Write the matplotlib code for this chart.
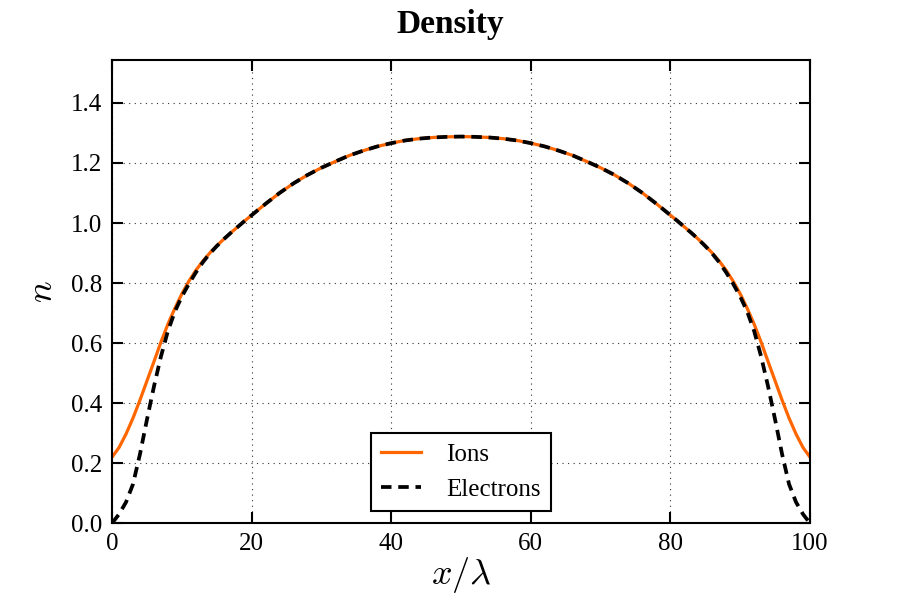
import matplotlib
matplotlib.use("Agg")
import matplotlib.pyplot as plt
import numpy as np

plt.rcParams['font.family'] = ['Liberation Serif', 'DejaVu Serif']
plt.rcParams['mathtext.fontset'] = 'cm'

# Positions along the domain (x / lambda), left half; the right half mirrors it
x_left = [0, 1, 2, 3, 4, 5, 6, 7, 8, 9, 10, 11, 12, 13, 14, 15, 16, 17, 18, 19, 20,
          22, 24, 26, 28, 30, 32, 34, 36, 38, 40, 42, 44, 46, 48, 50]
ions_left = [0.22, 0.252, 0.297, 0.35, 0.41, 0.474, 0.538, 0.603, 0.663, 0.716, 0.764,
             0.806, 0.842, 0.873, 0.9, 0.924, 0.946, 0.967, 0.987, 1.007, 1.026,
             1.064, 1.1, 1.132, 1.16, 1.184, 1.205, 1.225, 1.241, 1.255, 1.266,
             1.275, 1.281, 1.285, 1.287, 1.288]
electrons_left = [0.0, 0.03, 0.07, 0.13, 0.23, 0.345, 0.455, 0.555, 0.64, 0.705, 0.755,
                  0.797, 0.835, 0.869, 0.898, 0.923, 0.946, 0.967, 0.987, 1.007, 1.026,
                  1.064, 1.1, 1.132, 1.16, 1.184, 1.205, 1.225, 1.241, 1.255, 1.266,
                  1.275, 1.281, 1.285, 1.287, 1.288]

# the profile is symmetric about x = 50
x = np.array(x_left + [100 - v for v in x_left[-2::-1]])
ions = np.array(ions_left + ions_left[-2::-1])
electrons = np.array(electrons_left + electrons_left[-2::-1])

fig = plt.figure(figsize=(9, 6), dpi=100)
ax = fig.add_axes([0.1245, 0.128, 0.7755, 0.772])

ax.plot(x, ions, color='#ff6600', lw=2.3, label='Ions', solid_joinstyle='round')
ax.plot(x, electrons, color='black', lw=2.7, dashes=(2.8, 1.8), label='Electrons')

ax.set_xlim(0, 100)
ax.set_ylim(0, 1.543)
ax.set_xticks([0, 20, 40, 60, 80, 100])
ax.set_yticks([0.0, 0.2, 0.4, 0.6, 0.8, 1.0, 1.2, 1.4])
ax.set_yticklabels(['0.0', '0.2', '0.4', '0.6', '0.8', '1.0', '1.2', '1.4'])
ax.grid(True, color='#333333', linestyle=(0, (1, 4)), lw=0.8)

ax.tick_params(direction='in', top=True, right=True, length=8, width=1.5,
               labelsize=18, pad=7)
for sp in ax.spines.values():
    sp.set_linewidth(1.5)

# title is centred on the figure, not on the axes
fig.text(0.5, 1 - 33 / 600, 'Density', fontsize=24, fontweight='bold',
         ha='center', va='baseline')
ax.set_xlabel(r'$x/\lambda$', fontsize=26, labelpad=0)
ax.set_ylabel(r'$n$', fontsize=26, labelpad=8)

leg = ax.legend(loc='lower center', fontsize=18, fancybox=False, framealpha=1,
                edgecolor='black', handlelength=1.6, handletextpad=1.0,
                borderaxespad=0.5)
leg.get_frame().set_linewidth(1.5)

fig.savefig('out.png', dpi=100)
